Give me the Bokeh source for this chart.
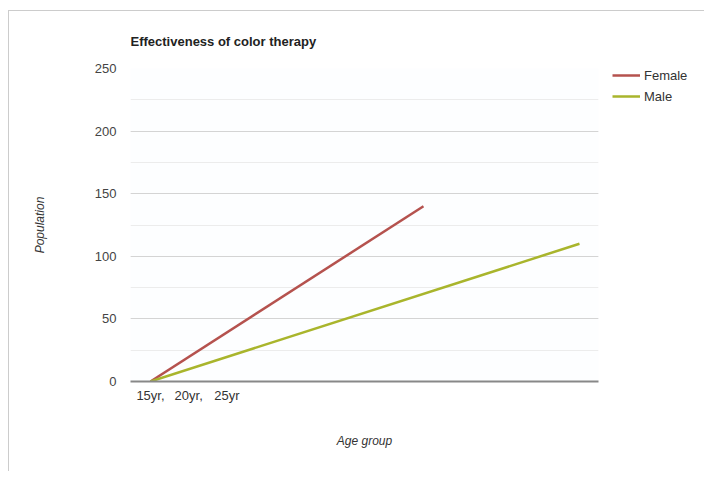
from bokeh.plotting import figure
from bokeh.models import Legend, LegendItem, SingleIntervalTicker, FixedTicker, Range1d
from bokeh.embed import file_html
from bokeh.resources import INLINE

# ---- data ----
title_text = "Effectiveness of color therapy"
series_names = ["Female", "Male"]
female_x = [0, 35]
female_y = [0, 140]
male_x = [0, 55]
male_y = [0, 110]
x_tick_positions = [0.0, 4.9, 9.8]
x_tick_labels = ["15yr,", "20yr,", "25yr"]
y_max = 250

FONT = "Liberation Sans"

p = figure(frame_width=468, frame_height=313, output_backend="svg", toolbar_location=None,
           x_range=Range1d(-2.56, 57.44), y_range=Range1d(0, y_max),
           min_border_left=121, min_border_right=99, min_border_top=57,
           min_border_bottom=90, background_fill_color="#fdfeff",
           border_fill_color="white")
p.outline_line_color = None
p.styles = {"border-top": "1px solid #cccccc", "border-left": "1px solid #cccccc",
            "margin-left": "8px", "margin-top": "10px"}

p.title.text = title_text
p.title.text_font = FONT
p.title.text_font_style = "bold"
p.title.text_font_size = "13px"
p.title.text_color = "#222222"
p.title.align = "left"
p.title.standoff = 40

fl = p.line(female_x, female_y, line_color="#b5524e", line_width=2.5)
ml = p.line(male_x, male_y, line_color="#a9b52c", line_width=2.5)

# y axis
p.yaxis.ticker = SingleIntervalTicker(interval=50, num_minor_ticks=2)
p.yaxis.axis_line_color = None
p.yaxis.major_tick_line_color = None
p.yaxis.minor_tick_line_color = None
p.yaxis.major_tick_out = 0
p.yaxis.minor_tick_out = 0
p.yaxis.major_label_text_font = FONT
p.yaxis.major_label_text_font_size = "13px"
p.yaxis.major_label_text_color = "#444444"
p.yaxis.major_label_standoff = 14
p.yaxis.axis_label = "Population"
p.yaxis.axis_label_text_font = FONT
p.yaxis.axis_label_text_font_size = "12px"
p.yaxis.axis_label_text_font_style = "italic"
p.yaxis.axis_label_text_color = "#333333"
p.yaxis.axis_label_standoff = 45

p.ygrid.grid_line_color = "#d4d4d4"
p.ygrid.minor_grid_line_color = "#ececec"
p.xgrid.grid_line_color = None

# x axis
p.xaxis.ticker = FixedTicker(ticks=x_tick_positions)
p.xaxis.major_label_overrides = {t: l for t, l in zip(x_tick_positions, x_tick_labels)}
p.xaxis.axis_line_color = "#888888"
p.xaxis.axis_line_width = 2
p.xaxis.major_tick_line_color = None
p.xaxis.minor_tick_line_color = None
p.xaxis.major_tick_out = 0
p.xaxis.minor_tick_out = 0
p.xaxis.major_label_text_font = FONT
p.xaxis.major_label_text_font_size = "13px"
p.xaxis.major_label_text_color = "#333333"
p.xaxis.major_label_standoff = 6
p.xaxis.axis_label = "Age group"
p.xaxis.axis_label_text_font = FONT
p.xaxis.axis_label_text_font_size = "12px"
p.xaxis.axis_label_text_font_style = "italic"
p.xaxis.axis_label_text_color = "#333333"
p.xaxis.axis_label_standoff = 28

legend = Legend(items=[LegendItem(label=series_names[0], renderers=[fl]),
                       LegendItem(label=series_names[1], renderers=[ml])],
                location=(14, 277), padding=0, margin=0, spacing=5,
                glyph_width=28, glyph_height=16, label_standoff=4,
                border_line_color=None, background_fill_alpha=0,
                label_text_font=FONT, label_text_font_size="13px",
                label_text_color="#333333")
p.add_layout(legend, "right")

open("out.html", "w").write(file_html(p, INLINE))
